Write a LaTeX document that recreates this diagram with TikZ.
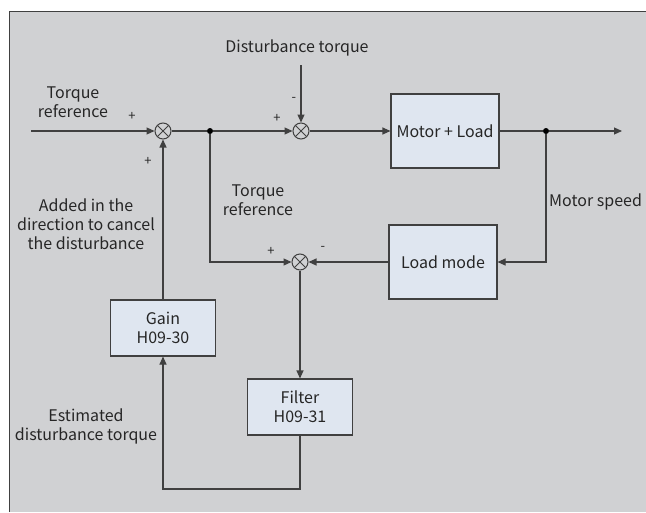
\documentclass[tikz,border=0pt]{standalone}
\usepackage{fontspec}
\setmainfont{Noto Sans CJK SC}
\usetikzlibrary{arrows.meta,positioning,calc}
\definecolor{bggray}{HTML}{D0D1D3}
\definecolor{boxfill}{HTML}{DFE6F0}
\definecolor{linegray}{HTML}{404040}

\begin{document}
\begin{tikzpicture}[x=1pt,y=-1pt,
  every node/.style={font=\fontsize{16}{19}\selectfont, text=black!85},
  box/.style={rectangle, draw=linegray, fill=boxfill, line width=1.1pt, align=center, inner sep=0pt},
  sumnode/.style={circle, draw=linegray, line width=1pt, minimum size=16pt, inner sep=0pt,
    path picture={\draw[linegray, line width=0.9pt] (path picture bounding box.center) +(45:8pt) -- +(225:8pt)
      (path picture bounding box.center) +(135:8pt) -- +(-45:8pt);}},
  dotnode/.style={circle, fill=black, minimum size=6pt, inner sep=0pt},
  sign/.style={font=\fontsize{13}{15}\selectfont, inner sep=0pt},
  lbl/.style={align=center, inner sep=0pt},
  line/.style={draw=linegray, line width=1.1pt},
  arr/.style={line, -{Triangle[length=8pt,width=7pt]}}]
\useasboundingbox (0,0) rectangle (646,512);
\fill[bggray] (9.5,11) rectangle (646,512);
\draw[linegray, line width=1pt] (646,11) -- (9.5,11) -- (9.5,512);
% blocks and junctions
\node[sumnode] (sumA) at (163,131) {};
\node[sumnode] (sumB) at (301,131) {};
\node[sumnode] (sumC) at (300,262) {};
\node[box, minimum width=108pt, minimum height=74pt] (motor) at (445,131) {Motor + Load};
\node[box, minimum width=108pt, minimum height=74pt] (load) at (443,262) {Load mode};
\node[box, minimum width=105pt, minimum height=56pt] (gain) at (163,328) {Gain\\H09-30};
\node[box, minimum width=105pt, minimum height=56pt] (filter) at (300,407) {Filter\\H09-31};
\node[dotnode] (splitA) at (210,131) {};
\node[dotnode] (splitB) at (546,131) {};
\coordinate (input) at (31,131);
\coordinate (output) at (622,131);
\coordinate (dist) at (301,65);
\coordinate (bottom) at (300,489);
% connectors
\draw[arr] (input) -- (sumA);
\draw[line] (sumA) -- (splitA);
\draw[arr] (splitA) -- (sumB);
\draw[arr] (sumB) -- (motor);
\draw[line] (motor) -- (splitB);
\draw[arr] (splitB) -- (output);
\draw[arr] (dist) -- (sumB);
\draw[arr] (splitB) |- (load.east);
\draw[arr] (splitA) |- (sumC);
\draw[arr] (load) -- (sumC);
\draw[arr] (sumC) -- (filter);
\draw[arr] (filter.south) -- (bottom) -| (gain.south);
\draw[arr] (gain) -- (sumA);
% texts
\node[lbl] (distlbl) at (297,48) {Disturbance torque};
\node[lbl] (reflbl) at (73,102) {Torque\\reference};
\node[lbl] (refmid) at (258,200) {Torque\\reference};
\node[lbl] (cancel) at (86,224) {Added in the\\direction to cancel\\the disturbance};
\node[lbl, anchor=west] (speed) at (549,202) {Motor speed};
\node[lbl] (estim) at (86,426) {Estimated\\disturbance torque};
\node[sign] (pA1) at (132,116) {+};
\node[sign] (pA2) at (148,161) {+};
\node[sign] (pB1) at (277,118) {+};
\node[sign] (mB) at (294,99) {-};
\node[sign] (pC) at (271,251) {+};
\node[sign] (mC) at (323,248) {-};
\end{tikzpicture}
\end{document}
